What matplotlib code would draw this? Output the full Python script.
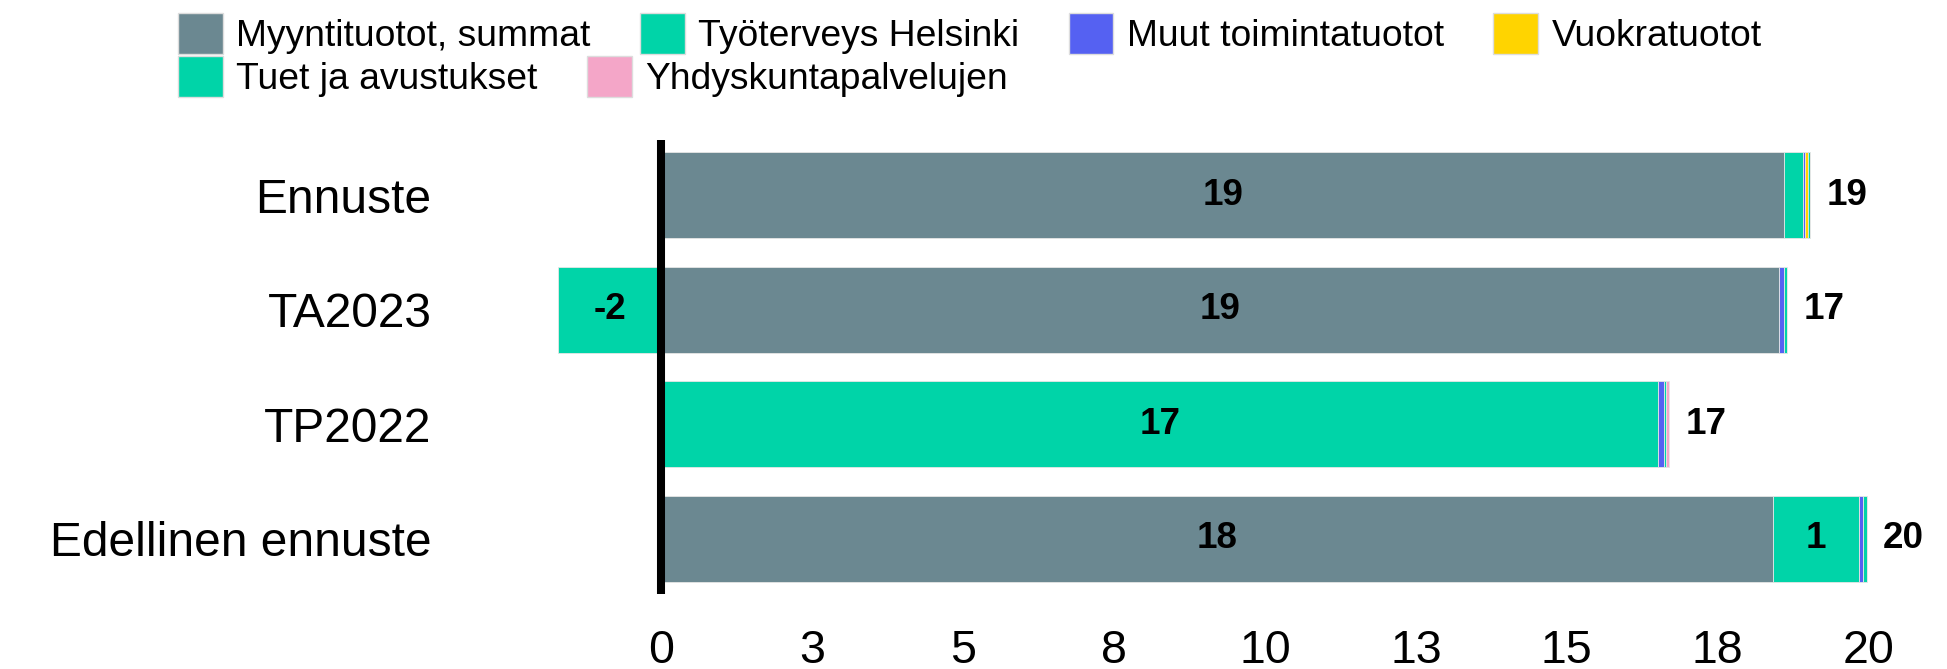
import matplotlib
matplotlib.use("Agg")
import matplotlib.pyplot as plt
from matplotlib.patches import Patch
import numpy as np

plt.rcParams["font.family"] = ["Liberation Sans", "DejaVu Sans"]

# Data (million €), rows top to bottom
categories = ["Ennuste", "TA2023", "TP2022", "Edellinen ennuste"]
series_names = ["Myyntituotot, summat", "Työterveys Helsinki", "Muut toimintatuotot",
                "Vuokratuotot", "Tuet ja avustukset", "Yhdyskuntapalvelujen"]
myyntituotot = [18.60, 18.52, 0.00, 18.42]
tyoterveys = [0.31, -1.715, 16.52, 1.425]
muut = [0.03, 0.083, 0.083, 0.07]
vuokra = [0.05, 0.00, 0.00, 0.00]
tuet = [0.045, 0.05, 0.04, 0.055]
yhdyskunta = [0.00, 0.00, 0.055, 0.00]
colors = ["#6b8891", "#00d4a8", "#5561f2", "#ffd400", "#00d4a8", "#f4a6c8"]
xticks = np.arange(0, 20.1, 2.5)

values = [myyntituotot, tyoterveys, muut, vuokra, tuet, yhdyskunta]

fig = plt.figure(figsize=(19.47, 6.69), dpi=100)
ax = fig.add_axes([0.2281, 0.1121, 0.7626, 0.6786])

y = np.arange(len(categories))
pos_left = np.zeros(len(categories))
neg_left = np.zeros(len(categories))
for name, vals, col in zip(series_names, values, colors):
    vals = np.array(vals)
    left = np.where(vals >= 0, pos_left, neg_left)
    ax.barh(y, vals, left=left, height=0.75, color=col, edgecolor="#e6e6e6",
            linewidth=0.6, label=name)
    for yi, v, l in zip(y, vals, left):
        if abs(v) >= 0.5:
            ax.text(l + v / 2, yi, f"{int(np.floor(v + 0.5))}", ha="center",
                    va="center", fontsize=26.5, fontweight="bold", color="black")
    pos_left = pos_left + np.where(vals >= 0, vals, 0)
    neg_left = neg_left + np.where(vals < 0, vals, 0)

# totals next to the bars
totals = pos_left + neg_left
for yi, end, tot in zip(y, pos_left, totals):
    ax.annotate(f"{int(np.floor(tot + 0.5))}", xy=(end, yi), xytext=(11.5, 0),
                textcoords="offset points", ha="left", va="center",
                fontsize=26.5, fontweight="bold")

ax.axvline(0, color="black", linewidth=5.8, zorder=5)

ax.set_xlim(-3.6, 21)
ax.set_ylim(3.48, -0.48)
ax.set_yticks(y)
ax.set_yticklabels(categories, fontsize=34.5)
ax.set_xticks(xticks)
ax.set_xticklabels([f"{int(np.floor(t + 0.5))}" for t in xticks], fontsize=33.5)
ax.tick_params(axis="x", length=0, pad=25)
ax.tick_params(axis="y", length=0, pad=9)
for s in ax.spines.values():
    s.set_visible(False)

handles = [Patch(facecolor=c, edgecolor="#dddddd", linewidth=1) for c in colors]
leg_kw = dict(frameon=False, fontsize=26.8, handlelength=1.2, handleheight=1.3,
              handletextpad=0.37, columnspacing=1.32, borderpad=0, borderaxespad=0,
              loc="upper left")
leg1 = fig.legend(handles[:4], series_names[:4], ncol=4,
                  bbox_to_anchor=(178 / 1947, 1 - 13 / 669), **leg_kw)
leg2 = fig.legend(handles[4:], series_names[4:], ncol=2,
                  bbox_to_anchor=(178 / 1947, 1 - 56 / 669), **leg_kw)

fig.savefig("out.png", dpi=100)
